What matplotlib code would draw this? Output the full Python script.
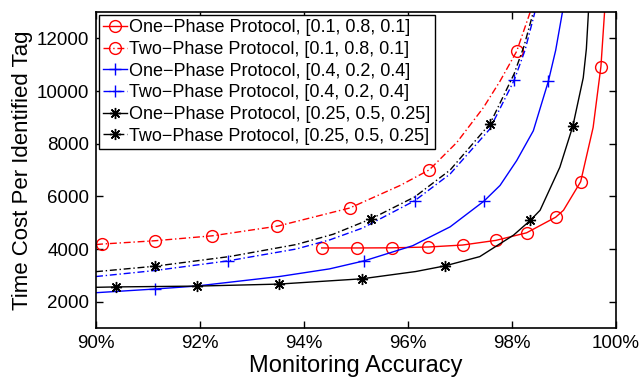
import matplotlib
matplotlib.use("Agg")
import matplotlib.pyplot as plt
from matplotlib.ticker import FuncFormatter

plt.rcParams['font.family'] = ['Liberation Sans', 'DejaVu Sans']

# values (x = monitoring accuracy in %, y = time cost)
red_one_x = [94.34, 95.01, 95.70, 96.39, 97.05, 97.69, 98.28, 98.84, 98.99, 99.32, 99.56, 99.71, 99.78]
red_one_y = [4040, 4040, 4045, 4076, 4151, 4328, 4615, 5208, 5472, 6555, 8616, 10932, 13000]
red_one_mk = [0, 1, 2, 3, 4, 5, 6, 7, 9, 11]

red_two_x = [90.0, 90.12, 91.13, 92.24, 93.49, 94.88, 95.85, 96.41, 96.94, 97.45, 97.77, 98.09, 98.35]
red_two_y = [4170, 4189, 4313, 4502, 4868, 5558, 6415, 7008, 8050, 9371, 10378, 11510, 13000]
red_two_mk = [1, 2, 3, 4, 5, 7, 11]

blue_one_x = [90.0, 91.13, 91.92, 93.53, 94.49, 95.16, 96.09, 96.81, 97.46, 97.77, 98.09, 98.41, 98.70, 98.84, 98.97]
blue_one_y = [2340, 2480, 2591, 2956, 3245, 3552, 4125, 4842, 5818, 6415, 7359, 8491, 10378, 11550, 13000]
blue_one_mk = [1, 5, 8, 12]

blue_two_x = [90.0, 91.13, 92.53, 93.85, 94.50, 95.13, 96.13, 96.81, 97.57, 98.04, 98.25, 98.44]
blue_two_y = [2955, 3182, 3547, 4000, 4350, 4800, 5836, 6850, 8550, 10405, 11550, 13000]
blue_two_mk = [2, 6, 9]

black_one_x = [90.0, 90.38, 91.94, 93.51, 95.11, 96.15, 96.71, 97.38, 98.03, 98.35, 98.54, 98.92, 99.17, 99.37, 99.43, 99.47]
black_one_y = [2545, 2560, 2591, 2667, 2868, 3145, 3359, 3711, 4528, 5083, 5472, 7106, 8668, 10503, 11600, 13000]
black_one_mk = [1, 2, 3, 4, 6, 9, 12]

black_two_x = [90.0, 91.13, 92.56, 93.85, 94.56, 95.29, 96.13, 96.81, 97.58, 98.04, 98.23, 98.41]
black_two_y = [3140, 3346, 3711, 4170, 4560, 5145, 5980, 7000, 8767, 10650, 11700, 13000]
black_two_mk = [1, 5, 8]

labels = ['One\u2212Phase Protocol, [0.1, 0.8, 0.1]',
          'Two\u2212Phase Protocol, [0.1, 0.8, 0.1]',
          'One\u2212Phase Protocol, [0.4, 0.2, 0.4]',
          'Two\u2212Phase Protocol, [0.4, 0.2, 0.4]',
          'One\u2212Phase Protocol, [0.25, 0.5, 0.25]',
          'Two\u2212Phase Protocol, [0.25, 0.5, 0.25]']

dashdot = (0, (5, 2, 1, 2))
star = (8, 2, 0)

fig = plt.figure(figsize=(6.41, 3.77), dpi=100)
ax = fig.add_axes([0.1498, 0.130, 0.8112, 0.838])

ax.plot(red_one_x, red_one_y, color='red', lw=1.0, marker='o', ms=8.5, mfc='none',
        markevery=red_one_mk, label=labels[0])
ax.plot(red_two_x, red_two_y, color='red', lw=1.0, ls=dashdot, marker='o', ms=8.5, mfc='none',
        markevery=red_two_mk, label=labels[1])
ax.plot(blue_one_x, blue_one_y, color='blue', lw=1.0, marker='+', ms=9, mew=1.0,
        markevery=blue_one_mk, label=labels[2])
ax.plot(blue_two_x, blue_two_y, color='blue', lw=1.0, ls=dashdot, marker='+', ms=9, mew=1.0,
        markevery=blue_two_mk, label=labels[3])
ax.plot(black_one_x, black_one_y, color='black', lw=1.0, marker=star, ms=8, mew=1.0,
        markevery=black_one_mk, label=labels[4])
ax.plot(black_two_x, black_two_y, color='black', lw=1.0, ls=dashdot, marker=star, ms=8, mew=1.0,
        markevery=black_two_mk, label=labels[5])

ax.set_xlim(90, 100)
ax.set_ylim(1000, 13000)
ax.set_xticks([90, 92, 94, 96, 98, 100])
ax.set_yticks([2000, 4000, 6000, 8000, 10000, 12000])
ax.xaxis.set_major_formatter(FuncFormatter(lambda v, p: '%d%%' % v))
ax.tick_params(direction='in', top=True, right=True, length=5, width=1, labelsize=13.5, pad=5)
for s in ax.spines.values():
    s.set_linewidth(1.2)

ax.set_xlabel('Monitoring Accuracy', fontsize=17, labelpad=2)
ax.set_ylabel('Time Cost Per Identified Tag', fontsize=16, labelpad=3)

leg = ax.legend(loc='upper left', fontsize=13, fancybox=False, framealpha=1, edgecolor='black',
                handlelength=1.3, handletextpad=0.15, labelspacing=0.26, borderpad=0.25,
                borderaxespad=0.15)
leg.get_frame().set_linewidth(1.0)

fig.savefig('out.png', dpi=100)
